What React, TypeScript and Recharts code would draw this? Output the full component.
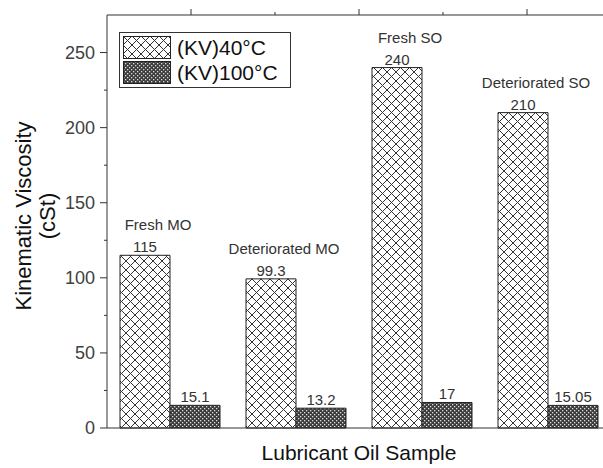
import React from 'react'
import { BarChart, Bar, XAxis, YAxis, LabelList } from 'recharts'

// data
const SAMPLES = ['Fresh MO', 'Deteriorated MO', 'Fresh SO', 'Deteriorated SO']
const KV40 = [115, 99.3, 240, 210]
const KV100 = [15.1, 13.2, 17, 15.05]
const Y_TICKS = [0, 25, 50, 75, 100, 125, 150, 175, 200, 225, 250]
const TOP_TICKS = [0.5, 1, 1.5, 2, 2.5, 3, 3.5]
const SERIES = [
  { key: 'kv40', name: '(KV)40°C', fill: 'url(#hatch40)' },
  { key: 'kv100', name: '(KV)100°C', fill: 'url(#hatch100)' },
]

const data = SAMPLES.map((s, i) => ({ sample: s, kv40: KV40[i], kv100: KV100[i] }))

const AXIS = '#333'
const TEXT = '#333'
const FONT = "Arial, 'Liberation Sans', sans-serif"

function YTick({ x, y, payload }: any) {
  const major = payload.value % 50 === 0
  return (
    <g>
      <line x1={x - (major ? 7 : 3)} x2={x} y1={y} y2={y} stroke={AXIS} />
      {major && (
        <text x={x - 12} y={y} textAnchor="end" dominantBaseline="central" fontSize={18} fill="#404040">
          {payload.value}
        </text>
      )}
    </g>
  )
}

function TopTick({ x, y, payload }: any) {
  const major = payload.value % 1 !== 0
  return <line x1={x} x2={x} y1={y} y2={y - (major ? 6 : 3)} stroke={AXIS} />
}

function kv40Label(props: any) {
  const { x, y, width, value, index } = props
  const cx = x + width / 2
  return (
    <g>
      <text x={cx} y={y - 3} textAnchor="middle" fontSize={15} fill={TEXT}>{value}</text>
      <text x={cx + 13} y={y - 25} textAnchor="middle" fontSize={15} fill={TEXT}>{SAMPLES[index]}</text>
    </g>
  )
}

function kv100Label(props: any) {
  const { x, y, width, value } = props
  return (
    <text x={x + width / 2} y={y - 3} textAnchor="middle" fontSize={15} fill={TEXT}>{value}</text>
  )
}

function YLabel() {
  const cy = 216
  return (
    <g fill="#111" fontSize={22}>
      <text x={23} y={cy} textAnchor="middle" dominantBaseline="central" transform={`rotate(-90 23 ${cy})`}>
        Kinematic Viscosity
      </text>
      <text x={47} y={cy} textAnchor="middle" dominantBaseline="central" transform={`rotate(-90 47 ${cy})`}>
        (cSt)
      </text>
    </g>
  )
}

function XLabel({ viewBox }: any) {
  const { x, width } = viewBox
  return (
    <text x={x + width / 2} y={460} textAnchor="middle" fontSize={21} fill="#111">
      Lubricant Oil Sample
    </text>
  )
}

function LegendBox() {
  return (
    <div
      style={{
        position: 'absolute', left: 119, top: 32, border: '1px solid #333', background: '#fff',
        padding: '2px 12px 2px 3px', lineHeight: 1,
      }}
    >
      {SERIES.map((s) => (
        <div key={s.key} style={{ display: 'flex', alignItems: 'center', height: 25 }}>
          <svg width={48} height={23} style={{ display: 'block' }}>
            <rect x={0.5} y={0.5} width={47} height={22} fill={s.fill} stroke="#222" />
          </svg>
          <span style={{ marginLeft: 6, fontSize: 21, color: '#111' }}>{s.name}</span>
        </div>
      ))}
    </div>
  )
}

export default function App() {
  return (
    <div style={{ position: 'absolute', left: 0, top: 0, width: 603, height: 468, overflow: 'hidden', background: '#fff', fontFamily: FONT }}>
      <BarChart
        width={640}
        height={468}
        data={data}
        margin={{ top: 0, right: 29, bottom: 0, left: 0 }}
        barCategoryGap={13}
        barGap={0}
      >
        <defs>
          <pattern id="hatch40" patternUnits="userSpaceOnUse" width={9} height={9}>
            <rect width={9} height={9} fill="#fff" />
            <path d="M0,0 L9,9 M9,0 L0,9" stroke="#333" strokeWidth={1} />
          </pattern>
          <pattern id="hatch100" patternUnits="userSpaceOnUse" width={4} height={4}>
            <rect width={4} height={4} fill="#3c3c3c" />
            <rect x={0} y={0} width={1.3} height={1.3} fill="#ddd" />
            <rect x={2} y={2} width={1.3} height={1.3} fill="#ddd" />
          </pattern>
        </defs>
        <XAxis
          xAxisId="top"
          orientation="top"
          type="number"
          domain={[0, 4]}
          ticks={TOP_TICKS}
          height={15}
          tickSize={0}
          tickMargin={0}
          tick={<TopTick />}
          axisLine={{ stroke: AXIS }}
        />
        <XAxis
          dataKey="sample"
          height={40}
          tick={false}
          tickLine={false}
          axisLine={{ stroke: AXIS }}
          label={<XLabel />}
        />
        <YAxis
          width={107}
          domain={[0, 275]}
          ticks={Y_TICKS}
          tickSize={0}
          tickMargin={0}
          tick={<YTick />}
          axisLine={{ stroke: AXIS }}
          label={<YLabel />}
        />
        <Bar dataKey="kv40" name={SERIES[0].name} fill={SERIES[0].fill} stroke="#222" strokeWidth={1} isAnimationActive={false}>
          <LabelList dataKey="kv40" content={kv40Label} />
        </Bar>
        <Bar dataKey="kv100" name={SERIES[1].name} fill={SERIES[1].fill} stroke="#222" strokeWidth={1} isAnimationActive={false}>
          <LabelList dataKey="kv100" content={kv100Label} />
        </Bar>
      </BarChart>
      <LegendBox />
    </div>
  )
}
